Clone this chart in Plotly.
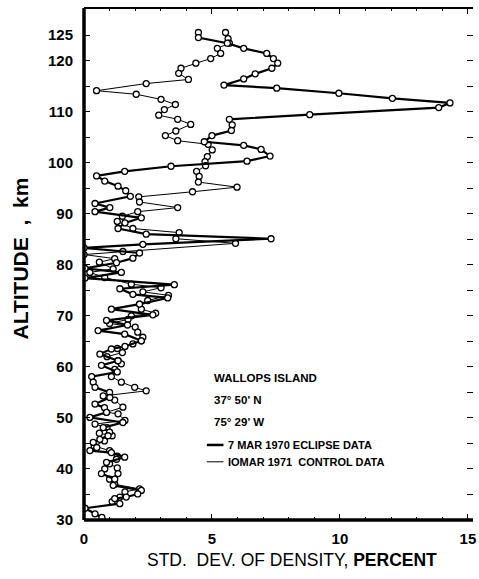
import plotly.graph_objects as go

# 7 MAR 1970 eclipse data (thick line)
eclipse_alt = [125.5, 124.5, 123.4, 122.4, 121.4, 120.4, 119.5, 118.5, 117.4, 116.4, 115.2,
               114.6, 113.6, 112.6, 111.7, 110.8, 109.4, 108.5, 107.4, 106.3, 105.3, 104.1,
               103.4, 102.6, 101.3, 100.3, 99.3, 98.3, 97.4, 96.4, 95.4, 94.5, 93.4, 92.0,
               91.2, 90.4, 89.2, 88.2, 87.1, 86.0, 85.1, 84.0, 83.3, 82.3, 81.3, 80.4, 79.3,
               78.5, 77.4, 76.1, 75.3, 74.2, 73.5, 72.3, 71.3, 70.2, 69.1, 68.2, 67.1, 66.4,
               65.1, 64.0, 63.5, 62.5, 61.2, 60.3, 59.0, 58.1, 57.0, 56.0, 55.0, 54.0, 52.7,
               52.0, 51.1, 50.1, 49.1, 48.1, 47.2, 46.5, 45.8, 45.2, 44.2, 43.6, 43.2, 42.3,
               41.3, 40.0, 39.1, 38.0, 36.8, 35.8, 35.1, 34.5, 34.2, 33.2, 32.3, 31.2, 30.5]
eclipse_val = [4.47, 4.47, 5.6, 6.24, 7.14, 7.4, 7.57, 7.34, 6.69, 6.24, 5.47,
               7.53, 9.96, 12.05, 14.3, 13.86, 8.82, 5.68, 5.79, 5.76, 5.0, 4.7,
               6.24, 6.92, 7.27, 6.37, 3.4, 1.59, 0.49, 0.81, 1.33, 1.63, 1.81, 0.43,
               1.01, 0.43, 2.24, 1.6, 1.33, 2.43, 7.31, 2.3, 0.0, 2.17, 1.91, 1.27, 0.04,
               1.46, 0.04, 3.53, 1.4, 1.91, 3.27, 2.17, 1.07, 2.69, 0.88, 1.7, 0.55, 1.59,
               2.24, 1.6, 1.07, 0.62, 1.33, 0.68, 1.3, 0.3, 0.36, 0.43, 1.0, 1.01, 0.43,
               0.8, 0.88, 0.23, 1.52, 0.75, 1.0, 0.94, 0.62, 0.36, 0.5, 0.23, 1.07, 1.59,
               0.88, 0.81, 0.68, 1.2, 1.14, 2.24, 2.1, 1.65, 1.2, 1.4, 0.04, 0.43, 0.7]

# 10 MAR 1971 control data (thin line)
control_alt = [125.5, 124.3, 123.4, 122.4, 121.4, 120.4, 119.5, 118.5, 117.5, 116.3, 115.5,
               114.1, 113.4, 112.4, 111.4, 110.4, 109.3, 108.5, 107.5, 106.2, 105.3, 104.3,
               103.6, 102.5, 101.2, 100.2, 99.4, 98.3, 97.3, 96.2, 95.2, 94.3, 93.3, 92.3,
               91.2, 90.4, 89.5, 88.5, 87.1, 86.3, 85.1, 84.2, 82.6, 82.0, 81.2, 80.5, 79.2,
               78.5, 77.5, 76.2, 75.5, 74.7, 74.0, 73.0, 72.3, 71.3, 70.5, 70.0, 69.3, 68.5,
               67.8, 66.8, 65.8, 65.1, 64.5, 63.6, 62.8, 62.0, 61.2, 60.6, 59.5, 58.1, 57.0,
               56.0, 55.3, 54.3, 53.5, 52.1, 51.1, 50.8, 49.5, 48.8, 48.1, 47.0, 46.5, 45.5,
               44.5, 43.6, 42.5, 41.9, 41.0, 40.2, 39.1, 38.0, 37.0, 36.1, 35.5, 34.5, 33.6]
control_val = [5.53, 5.63, 5.68, 5.21, 5.34, 4.95, 4.37, 3.79, 3.7, 4.08, 2.43,
               0.49, 2.04, 3.01, 3.57, 3.14, 2.92, 3.66, 4.17, 3.59, 3.18, 3.66,
               4.85, 5.01, 4.82, 4.73, 4.75, 4.4, 4.5, 4.47, 5.98, 4.24, 2.14, 2.17,
               3.66, 2.1, 1.5, 1.3, 1.91, 3.72, 3.59, 5.92, 1.52, 0.0, 1.2, 0.6, 1.14,
               0.23, 0.81, 1.85, 3.01, 2.3, 3.3, 2.49, 2.17, 2.24, 2.8, 1.85, 1.72, 1.0,
               2.0, 2.1, 2.3, 2.24, 1.91, 1.3, 1.5, 0.9, 1.33, 1.46, 1.2, 1.07, 1.46,
               1.98, 2.43, 0.75, 1.2, 1.52, 0.88, 1.33, 1.6, 0.43, 0.9, 0.6, 1.1, 0.8,
               0.4, 1.0, 1.3, 1.27, 1.0, 1.3, 1.33, 1.0, 1.2, 2.17, 1.6, 1.4, 1.1]

y_tickvals = [30, 35, 40, 45, 50, 55, 60, 65, 70, 75, 80, 85, 90, 95, 100, 105, 110, 115, 120, 125]
y_ticktext = ["30", "", "40", "", "50", "", "60", "", "70", "", "80", "", "90", "", "100", "",
              "110", "", "120", "125"]
x_tickvals = [0, 5, 10, 15]
x_ticktext = ["0", "5", "10", "15"]

info_lines = ["WALLOPS ISLAND", "37° 50' N", "75° 29' W"]
legend_labels = ["7 MAR 1970 ECLIPSE DATA", "IOMAR 1971  CONTROL DATA"]

FONT = "Liberation Sans, Arial, sans-serif"

fig = go.Figure()
fig.add_trace(go.Scatter(
    x=control_val, y=control_alt, mode="lines+markers",
    line=dict(color="black", width=1),
    marker=dict(symbol="circle", size=6, color="white", line=dict(color="black", width=1.3)),
    showlegend=False))
fig.add_trace(go.Scatter(
    x=eclipse_val, y=eclipse_alt, mode="lines+markers",
    line=dict(color="black", width=2.2),
    marker=dict(symbol="circle", size=6, color="white", line=dict(color="black", width=1.3)),
    showlegend=False))

fig.update_layout(
    width=479, height=579,
    margin=dict(l=84, r=3, t=8, b=59),
    paper_bgcolor="white", plot_bgcolor="white",
    font=dict(family=FONT, color="black"),
    xaxis=dict(range=[0, 15.2], tickvals=x_tickvals, ticktext=x_ticktext,
               ticks="inside", ticklen=6, tickwidth=1.2, tickcolor="black",
               minor=dict(dtick=1, ticks="inside", ticklen=3, tickcolor="black"),
               mirror="ticks", showline=False, showgrid=False, zeroline=False,
               ticklabelstandoff=8, ticklabeloverflow="allow",
               tickfont=dict(size=15, family=FONT, weight="bold")),
    yaxis=dict(range=[30, 130.3], tickvals=y_tickvals, ticktext=y_ticktext,
               ticks="inside", ticklen=6, tickwidth=1.2, tickcolor="black",
               mirror="ticks", showline=False, showgrid=False, zeroline=False,
               ticklabelstandoff=10, ticklabeloverflow="allow",
               tickfont=dict(size=15, family=FONT, weight="bold")),
)

# frame lines
fig.add_shape(type="line", xref="paper", yref="paper", x0=0, x1=0, y0=0, y1=1,
              line=dict(color="black", width=3.5))
fig.add_shape(type="line", xref="paper", yref="paper", x0=0, x1=1, y0=0, y1=0,
              line=dict(color="black", width=3.5))
fig.add_shape(type="line", xref="paper", yref="paper", x0=0, x1=1, y0=1, y1=1,
              line=dict(color="black", width=2))

# axis titles
fig.add_annotation(text="STD.  DEV. OF DENSITY, <b>PERCENT</b>", xref="paper", yref="paper",
                   x=0.535, y=-0.078, xanchor="center", yanchor="middle", showarrow=False,
                   font=dict(size=17.5, family=FONT))
fig.add_annotation(text="<b>ALTITUDE  ,  km</b>", xref="paper", yref="paper",
                   x=-0.163, y=0.51, xanchor="center", yanchor="middle", showarrow=False,
                   textangle=-90, font=dict(size=21, family=FONT))

# info text
info_y = [57.9, 53.5, 49.2]
for txt, yy in zip(info_lines, info_y):
    fig.add_annotation(text="<b>" + txt + "</b>", x=5.0, y=yy, xanchor="left", yanchor="middle",
                       showarrow=False, font=dict(size=11.5, family=FONT))

leg_y = [44.7, 41.4]
leg_w = [2.5, 1]
for txt, yy, w in zip(legend_labels, leg_y, leg_w):
    fig.add_shape(type="line", x0=4.8, x1=5.45, y0=yy, y1=yy, line=dict(color="black", width=w))
    fig.add_annotation(text="<b>" + txt + "</b>", x=5.55, y=yy, xanchor="left", yanchor="middle",
                       showarrow=False, font=dict(size=11, family=FONT))

fig.write_html(
    "out.html",
    config={"displayModeBar": False},
    post_script="document.body.style.margin='0';"
                "document.documentElement.style.overflow='hidden';"
                "document.body.style.overflow='hidden';",
)
